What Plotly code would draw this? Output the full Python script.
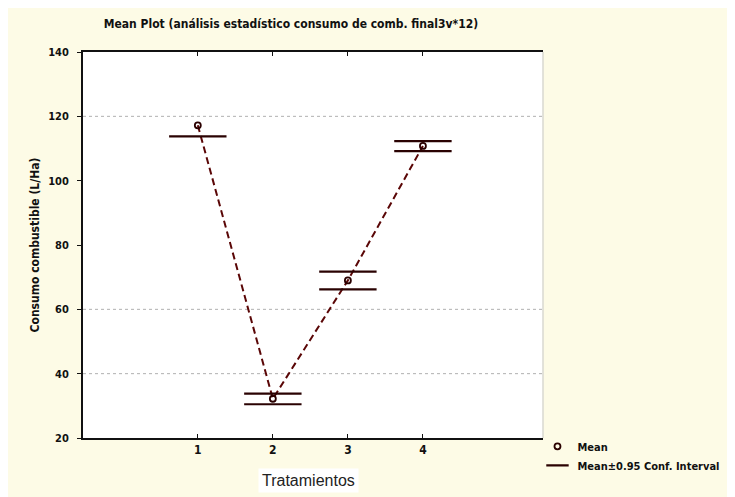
import plotly.graph_objects as go

treatments = [1, 2, 3, 4]
tick_labels = ["1", "2", "3", "4"]
means = [117.2, 32.2, 69.0, 110.8]
ci_upper = [None, 33.8, 71.7, 112.3]
ci_lower = [113.8, 30.5, 66.2, 109.2]
y_ticks = [20, 40, 60, 80, 100, 120, 140]
grid_values = [40, 60, 120]

LINE = "#5a0606"
FONT = "DejaVu Sans Condensed, Liberation Sans Narrow, Liberation Sans, sans-serif"

fig = go.Figure()

fig.add_trace(go.Scatter(
    x=treatments, y=means, mode="lines",
    line=dict(color=LINE, width=2, dash="7px,4px"),
    showlegend=False, hoverinfo="skip"))

cap_x = treatments + treatments
cap_y = ci_upper + ci_lower
fig.add_trace(go.Scatter(
    x=cap_x, y=cap_y, mode="markers",
    marker=dict(symbol="line-ew-open", size=41, color="#2a0202",
                line=dict(color="#2a0202", width=2.2)),
    name="<b>Mean±0.95 Conf. Interval</b>", hoverinfo="skip"))

fig.add_trace(go.Scatter(
    x=treatments, y=means, mode="markers",
    marker=dict(symbol="circle-open", size=6, color="#2a0000",
                line=dict(color="#2a0000", width=1.8)),
    name="<b>Mean</b>"))

for g in grid_values:
    fig.add_shape(type="line", xref="paper", x0=0, x1=1, yref="y", y0=g, y1=g,
                  line=dict(color="#b0b0b0", width=1, dash="dot"), layer="below")

# faint right frame edge
fig.add_shape(type="line", xref="paper", x0=1, x1=1, yref="paper", y0=0, y1=1,
              line=dict(color="#d8d8d0", width=1.5))

fig.add_annotation(text="Tratamientos", xref="paper", x=0.491, yref="paper", y=-0.11,
                   xanchor="center", yanchor="middle", showarrow=False,
                   bgcolor="white", borderpad=3,
                   font=dict(family="Liberation Sans, Arial, sans-serif", size=16, color="#222"))

fig.update_layout(
    width=735, height=497,
    paper_bgcolor="#fdfbe6", plot_bgcolor="white",
    margin=dict(l=75, r=200, t=44, b=67, autoexpand=False),
    title=dict(text="<b>Mean Plot (análisis estadístico consumo de comb. final3v*12)</b>",
               x=0.385, xanchor="center", y=0.968, yanchor="middle",
               font=dict(family=FONT, size=12, color="#111")),
    font=dict(family=FONT, color="#111"),
    legend=dict(x=0.988, y=0.016, xanchor="left", yanchor="top",
                bgcolor="rgba(0,0,0,0)", traceorder="reversed",
                font=dict(family=FONT, size=11, color="#111"),
                tracegroupgap=0, itemwidth=30),
    showlegend=True,
)

fig.update_xaxes(
    range=[-0.53, 5.6], tickvals=treatments, ticktext=["<b>%s</b>" % t for t in tick_labels],
    ticks="inside", ticklen=4, tickcolor="#111", mirror="allticks", automargin=False,
    showline=True, linecolor="#111", linewidth=2, showgrid=False, zeroline=False,
    tickfont=dict(family=FONT, size=12, color="#111"))

fig.update_yaxes(
    range=[20, 140], tickvals=y_ticks,
    ticktext=["<b>%d</b>" % v for v in y_ticks], automargin=False,
    ticks="outside", ticklen=4, tickcolor="#111", ticklabelstandoff=6,
    showline=True, linecolor="#111", linewidth=2, mirror=False, showgrid=False, zeroline=False,
    tickfont=dict(family=FONT, size=11, color="#111"),
    title=dict(text="<b>Consumo combustible (L/Ha)</b>",
               font=dict(family=FONT, size=12, color="#111"), standoff=6))

fig.write_html("out.html")
